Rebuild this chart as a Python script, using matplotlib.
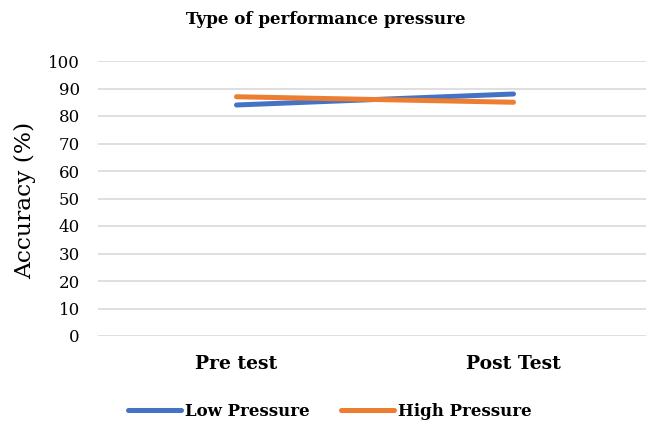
import matplotlib
matplotlib.use('Agg')
import matplotlib.pyplot as plt

# data
categories = ['Pre test', 'Post Test']
low_pressure = [84, 88]
high_pressure = [87, 85]
y_ticks = [0, 10, 20, 30, 40, 50, 60, 70, 80, 90, 100]

plt.rcParams['font.family'] = ['DejaVu Serif']

fig = plt.figure(figsize=(6.46, 4.24), dpi=100)
ax = fig.add_axes([98 / 646, 88 / 424, 554 / 646, 275 / 424])

x = range(len(categories))
ax.plot(x, low_pressure, color='#4472C4', lw=3.6, solid_capstyle='round',
        label='Low Pressure', zorder=3)
ax.plot(x, high_pressure, color='#ED7D31', lw=3.6, solid_capstyle='round',
        label='High Pressure', zorder=3)

ax.set_xlim(-0.5, 1.5)
ax.set_ylim(0, 100)
ax.set_yticks(y_ticks)
ax.set_xticks(list(x))
ax.set_xticklabels(categories, fontsize=13.5, fontweight='bold')
ax.tick_params(axis='y', labelsize=12, length=0, pad=13)
ax.tick_params(axis='x', length=0, pad=14)
ax.yaxis.grid(True, color='#D9D9D9', lw=1.2)
ax.set_axisbelow(True)
for s in ax.spines.values():
    s.set_visible(False)

# y label and title
fig.text(25 / 646, 1 - 200 / 424, 'Accuracy (%)', rotation=90,
         ha='center', va='center', fontsize=16.8)
fig.text(326 / 646, 1 - 19 / 424, 'Type of performance pressure',
         ha='center', va='center', fontsize=12.1, fontweight='bold')

fig.legend(loc='center', bbox_to_anchor=(330 / 646, 1 - 411 / 424), ncol=2,
           frameon=False, prop={'weight': 'bold', 'size': 12},
           handlelength=3.2, handletextpad=0.25, columnspacing=1.85)

fig.savefig('out.png', dpi=100)
